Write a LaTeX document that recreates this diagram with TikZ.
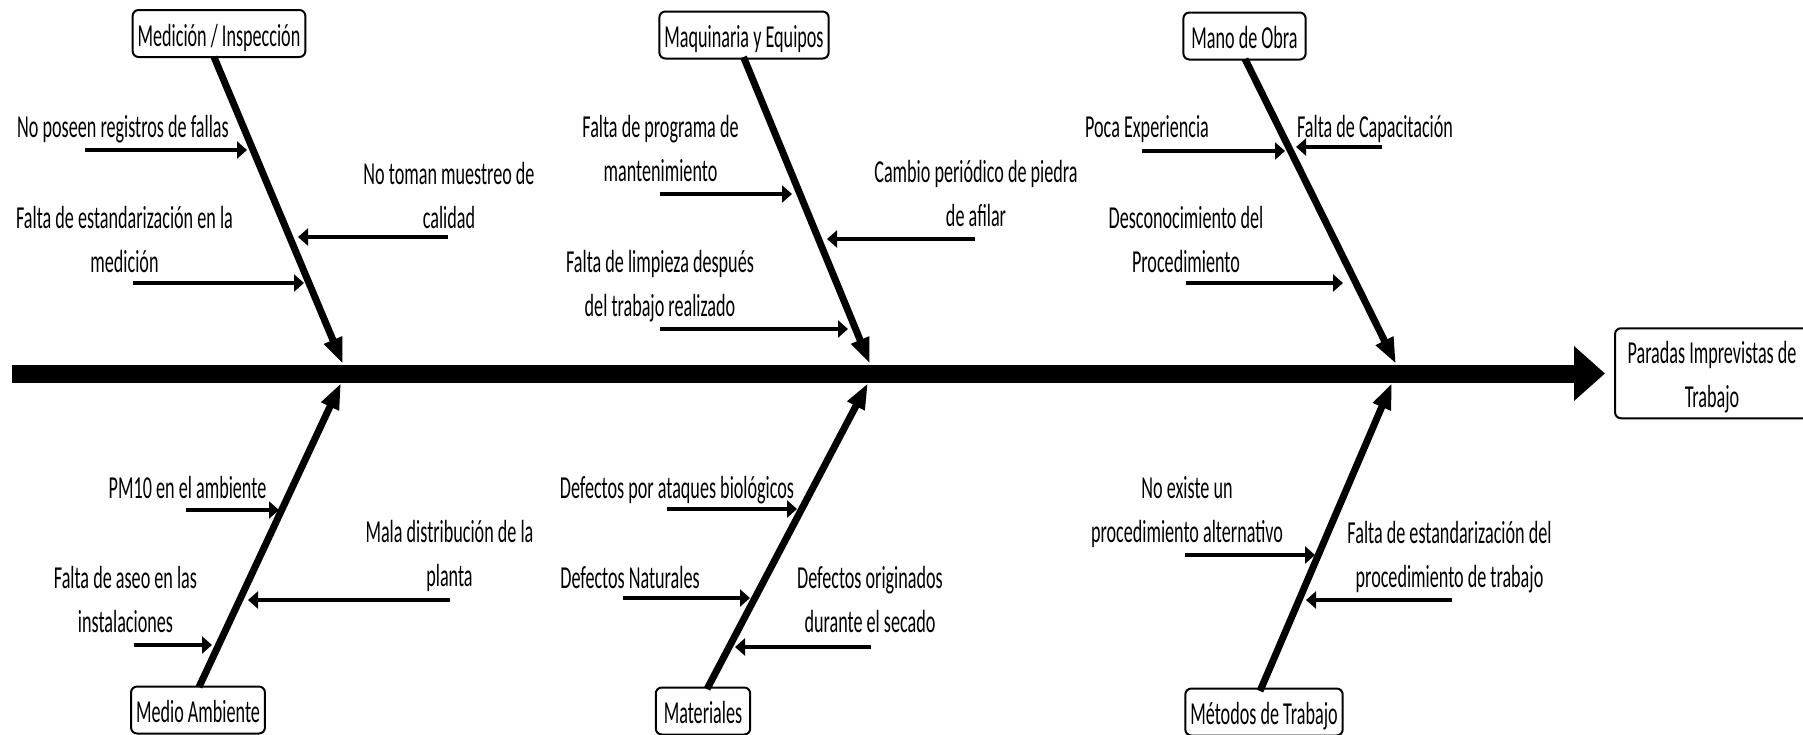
\documentclass[tikz,border=0pt]{standalone}
\usepackage{fontspec}
\setmainfont{Carlito}[FakeStretch=0.567]
\usetikzlibrary{arrows.meta}

% two centred lines whose baseline is the first line
\newcommand\twoline[2]{\vtop{\halign{\hfil##\hfil\cr#1\cr#2\cr}}}

\begin{document}
\begin{tikzpicture}[x=1pt,y=-1pt,
  every node/.style={font=\fontsize{32pt}{44.5pt}\selectfont},
  cause/.style={draw,line width=2pt,rounded corners=6pt,inner xsep=5pt,
    inner ysep=4pt,text height=32pt,text depth=7pt},
  lbl/.style={inner sep=0pt,anchor=base},
  bone/.style={line width=7pt,-{Triangle[length=26pt,width=18pt]}},
  sub/.style={line width=4.5pt,-{Triangle[length=10pt,width=17pt]}},
  spine/.style={line width=18pt,-{Triangle[length=31pt,width=53pt]}}]
\clip (0,0) rectangle (1803,734);
\fill[white] (0,0) rectangle (1803,734);

% effect and cause boxes
\node[cause,align=center,minimum width=194pt,text height=32pt,text depth=52.5pt,
  inner ysep=2.75pt] (eff) at (1712,373.25)
  {\twoline{Paradas Imprevistas de}{Trabajo}};
\node[cause] (med) at (219,33.5) {Medición / Inspección};
\node[cause] (maq) at (744,35) {Maquinaria y Equipos};
\node[cause,inner xsep=8pt] (mano) at (1244.5,36) {Mano de Obra};
\node[cause] (amb) at (198,710) {Medio Ambiente};
\node[cause,inner xsep=8pt] (mat) at (703,711) {Materiales};
\node[cause] (met) at (1264,712) {Métodos de Trabajo};

% spine
\coordinate (spL) at (12,373.5);
\draw[spine] (spL) -- ([xshift=-9pt]spL -| eff.west);

% main bones
\coordinate (b1) at (214,57);    \coordinate (t1) at (343,364);
\coordinate (b2) at (743.5,57);  \coordinate (t2) at (870,364);
\coordinate (b3) at (1245,59);   \coordinate (t3) at (1396,364);
\coordinate (b4) at (199,687);   \coordinate (t4) at (341,383);
\coordinate (b5) at (707,689);   \coordinate (t5) at (868,383);
\coordinate (b6) at (1260,691);  \coordinate (t6) at (1392,383);
\foreach \i in {1,...,6} {\draw[bone] (b\i) -- (t\i);}

% sub-cause arrows: tail (s..) to head (e..)
\coordinate (s11) at (85,150);    \coordinate (e11) at (247,150);
\coordinate (s12) at (448,237);   \coordinate (e12) at (298,237);
\coordinate (s13) at (133,283);   \coordinate (e13) at (304,283);
\coordinate (s21) at (660,194);   \coordinate (e21) at (792,194);
\coordinate (s22) at (975,239);   \coordinate (e22) at (827,239);
\coordinate (s23) at (660,329);   \coordinate (e23) at (848,329);
\coordinate (s31) at (1142,151);  \coordinate (e31) at (1285,151);
\coordinate (s32) at (1382,147);  \coordinate (e32) at (1296,147);
\coordinate (s33) at (1186,283);  \coordinate (e33) at (1343,283);
\coordinate (s41) at (186,510);   \coordinate (e41) at (279,510);
\coordinate (s42) at (450,600);   \coordinate (e42) at (248,600);
\coordinate (s43) at (134,645);   \coordinate (e43) at (212,645);
\coordinate (s51) at (667,509);   \coordinate (e51) at (797,509);
\coordinate (s52) at (623,598);   \coordinate (e52) at (750,598);
\coordinate (s53) at (871,647);   \coordinate (e53) at (735,647);
\coordinate (s61) at (1185,555);  \coordinate (e61) at (1315,555);
\coordinate (s62) at (1452,600);  \coordinate (e62) at (1306,600);
\foreach \p in {11,12,13,21,22,23,31,32,33,41,42,43,51,52,53,61,62}
  {\draw[sub] (s\p) -- (e\p);}

% sub-cause labels
\node[lbl] (l11) at (123,137) {No poseen registros de fallas};
\node[lbl] (l12) at (449,184) {\twoline{No toman muestreo de}{calidad}};
\node[lbl] (l13) at (124.5,228) {\twoline{Falta de estandarización en la}{medición}};
\node[lbl] (l21) at (660.5,137) {\twoline{Falta de programa de}{mantenimiento}};
\node[lbl] (l22) at (976,182) {\twoline{Cambio periódico de piedra}{de afilar}};
\node[lbl] (l23) at (660,272) {\twoline{Falta de limpieza después}{del trabajo realizado}};
\node[lbl] (l31) at (1147,137) {Poca Experiencia};
\node[lbl] (l32) at (1375,137) {Falta de Capacitación};
\node[lbl] (l33) at (1186,228) {\twoline{Desconocimiento del}{Procedimiento}};
\node[lbl] (l41) at (187.5,498) {PM10 en el ambiente};
\node[lbl] (l42) at (449.5,542) {\twoline{Mala distribución de la}{planta}};
\node[lbl] (l43) at (125.5,588) {\twoline{Falta de aseo en las}{instalaciones}};
\node[lbl] (l51) at (677,498) {Defectos por ataques biológicos};
\node[lbl] (l52) at (630,588) {Defectos Naturales};
\node[lbl] (l53) at (870,588) {\twoline{Defectos originados}{durante el secado}};
\node[lbl] (l61) at (1187,498) {\twoline{No existe un}{procedimiento alternativo}};
\node[lbl] (l62) at (1449.5,543) {\twoline{Falta de estandarización del}{procedimiento de trabajo}};
\end{tikzpicture}
\end{document}
